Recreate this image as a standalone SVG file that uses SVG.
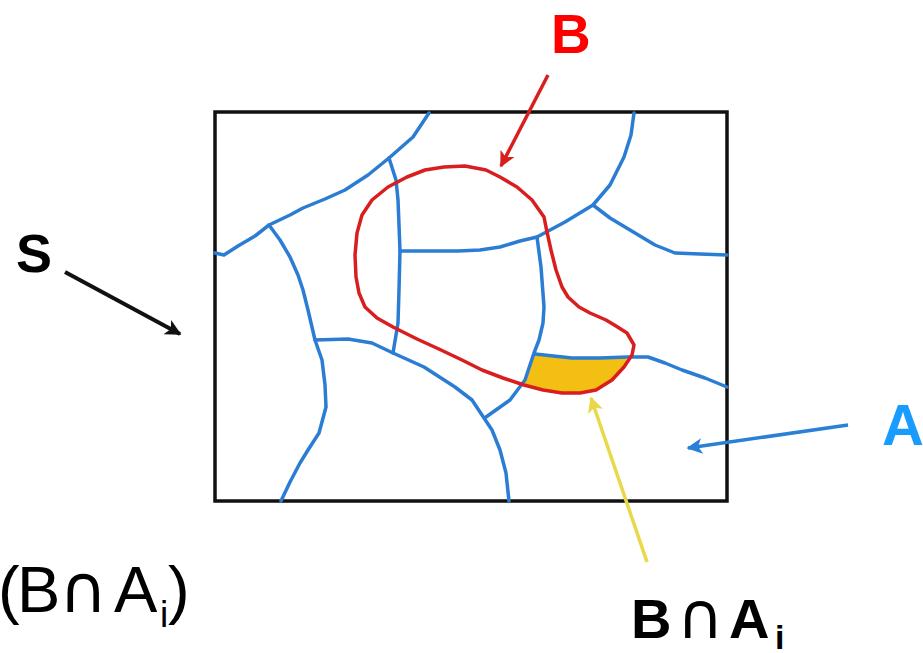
<svg xmlns="http://www.w3.org/2000/svg" width="923" height="653" viewBox="0 0 923 653">
<style>
.bl{fill:none;stroke:#2b7dd3;stroke-width:3.5;stroke-linejoin:round;stroke-linecap:round}
.rd{fill:none;stroke:#d81e1e;stroke-width:3.5;stroke-linejoin:round}
.t{font-family:"Liberation Sans","DejaVu Sans",Arial,sans-serif}
.cap{font-family:"DejaVu Sans","Liberation Sans",sans-serif;font-weight:normal}
.b{font-weight:bold}
</style>
<defs>
<marker id="mk" viewBox="0 0 10 10" refX="9" refY="5" markerWidth="5" markerHeight="4" orient="auto" markerUnits="strokeWidth"><path d="M0,0 L10,5 L0,10 L2.5,5 Z" fill="#111"/></marker>
<marker id="mr" viewBox="0 0 10 10" refX="9" refY="5" markerWidth="5" markerHeight="4.5" orient="auto" markerUnits="strokeWidth"><path d="M0,0 L10,5 L0,10 L2.5,5 Z" fill="#d81e1e"/></marker>
<marker id="mb" viewBox="0 0 10 10" refX="9" refY="5" markerWidth="5" markerHeight="4.5" orient="auto" markerUnits="strokeWidth"><path d="M0,0 L10,5 L0,10 L2.5,5 Z" fill="#2a7fd6"/></marker>
<marker id="my" viewBox="0 0 10 10" refX="9" refY="5" markerWidth="5" markerHeight="4.5" orient="auto" markerUnits="strokeWidth"><path d="M0,0 L10,5 L0,10 L2.5,5 Z" fill="#e8d84a"/></marker>
</defs>
<rect width="923" height="653" fill="#fff"/>
<g id="S-set">
<rect x="215" y="112" width="512" height="389" fill="none" stroke="#111" stroke-width="3.5"/>
</g>
<g id="yellow-region">
<path d="M535,354 L560,357 L590,358 L628,356 L624,367 L612,380 L596,390 L578,393 L562,393 L540,389 L524,384 L529,370 Z" fill="#f3bf12"/>
</g>
<g id="partition-A">
<path class="bl" d="M215,253 L224,255 L238,246 L255,236 L269,225 L290,215 L303,208 L325,199 L345,190 L368,175 L389,158 L413,137 L429,113"/>
<path class="bl" d="M269,225 L280,240 L290,257 L298,275 L303,290 L308,310 L315,340 L322,360 L325,385 L326,407 L319,433 L308,450 L300,463 L290,482 L281,501"/>
<path class="bl" d="M315,340 L348,339 L372,343 L393,353 L424,367 L455,387 L472,400 L482,415 L492,430 L500,450 L506,473 L509,501"/>
<path class="bl" d="M389,158 L396,180 L398,200 L399,225 L400,251 L399,290 L398,323 L393,353"/>
<path class="bl" d="M400,251 L430,251 L458,251 L480,250 L500,247 L520,241 L537,237 L565,222 L593,205 L610,185 L624,157 L631,135 L634,113"/>
<path class="bl" d="M593,205 L610,218 L630,230 L655,245 L675,253 L700,254 L727,255"/>
<path class="bl" d="M537,237 L541,267 L544,307 L543,323 L539,340 L534,353 L525,380 L510,400 L486,417"/>
<path class="bl" d="M535,354 L572,358 L600,358 L627,357 L648,357 L665,363 L682,370 L705,378 L727,387"/>
</g>
<g id="set-B">
<path class="rd" d="M444,167 L425,170 L407,177 L388,187 L372,200 L362,215 L357,233 L355,255 L356,277 L359,293 L365,307 L377,318 L393,327 L417,339 L441,350 L462,360 L482,370 L503,378 L524,385 L543,390 L562,393 L580,393 L596,390 L612,380 L624,367 L632,355 L634,345 L627,333 L616,326 L606,320 L590,313 L579,307 L568,297 L562,287 L556,270 L551,250 L547,232 L544,217 L532,200 L517,187 L500,177 L486,170 L465,166 Z"/>
</g>
<g id="connectors">
<line x1="65" y1="272" x2="180" y2="334" stroke="#111" stroke-width="4" marker-end="url(#mk)"/>
<line x1="548" y1="75" x2="501" y2="166" stroke="#d81e1e" stroke-width="3.5" marker-end="url(#mr)"/>
<line x1="848" y1="425" x2="688" y2="448" stroke="#2a7fd6" stroke-width="3.5" marker-end="url(#mb)"/>
<line x1="647" y1="562" x2="591" y2="398" stroke="#e8d84a" stroke-width="3.5" marker-end="url(#my)"/>
</g>
<g id="label-S"><text class="t b" x="16" y="272" font-size="54" fill="#000">S</text></g>
<g id="label-B"><text class="t b" x="551" y="53" font-size="55" fill="#ff0000">B</text></g>
<g id="label-A"><text class="t b" x="882" y="445" font-size="58" fill="#1a9cff">A</text></g>
<g id="label-BnAi">
<text class="t b" y="638" font-size="56" fill="#000"><tspan x="631">B</tspan><tspan class="cap" x="677" font-size="64">∩</tspan><tspan x="729">A</tspan><tspan x="775" y="649" font-size="34">i</tspan></text>
</g>
<g id="label-paren">
<text class="t" y="612" font-size="65" fill="#000"><tspan x="-2">(</tspan><tspan x="17">B</tspan><tspan class="cap" x="59" font-size="66">∩</tspan><tspan x="114">A</tspan><tspan x="160" y="627" font-size="37">i</tspan><tspan x="168" y="612">)</tspan></text>
</g>
</svg>
